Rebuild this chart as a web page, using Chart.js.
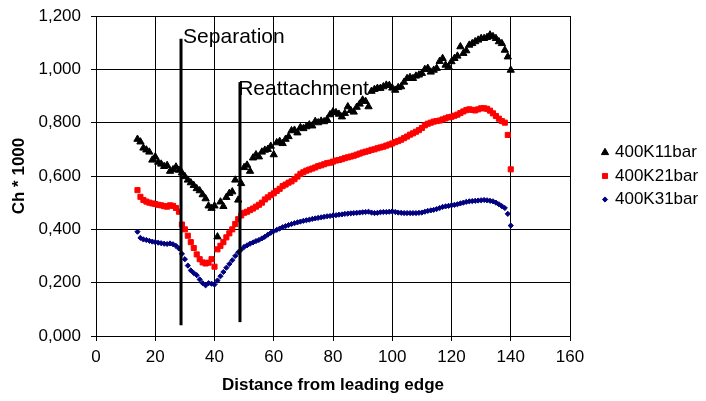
<!DOCTYPE html>
<html>
<head>
<meta charset="utf-8">
<script src="https://cdn.jsdelivr.net/npm/chart.js@4.4.1/dist/chart.umd.min.js"></script>
<style>
  html, body { margin: 0; padding: 0; background: #fff; }
</style>
</head>
<body>
<canvas id="chart" width="706" height="401"></canvas>
<script>
// Distance from leading edge (x values shared by the three series)
const distance = [
  14, 15, 16, 17, 18, 19, 20, 21, 22, 23,
  24, 25, 26, 27, 28, 29, 30, 31, 32, 33,
  34, 35, 36, 37, 38, 39, 40, 41, 42, 43,
  44, 45, 46, 47, 48, 49, 50, 51, 52, 53,
  54, 55, 56, 57, 58, 59, 60, 61, 62, 63,
  64, 65, 66, 67, 68, 69, 70, 71, 72, 73,
  74, 75, 76, 77, 78, 79, 80, 81, 82, 83,
  84, 85, 86, 87, 88, 89, 90, 91, 92, 93,
  94, 95, 96, 97, 98, 99, 100, 101, 102, 103,
  104, 105, 106, 107, 108, 109, 110, 111, 112, 113,
  114, 115, 116, 117, 118, 119, 120, 121, 122, 123,
  124, 125, 126, 127, 128, 129, 130, 131, 132, 133,
  134, 135, 136, 137, 138, 139, 140
];

// Ch * 1000 for each run
const k11 = [
  0.738, 0.728, 0.705, 0.698, 0.690, 0.660, 0.672, 0.652, 0.645, 0.636,
  0.640, 0.618, 0.624, 0.634, 0.622, 0.612, 0.598, 0.585, 0.575, 0.565,
  0.553, 0.545, 0.530, 0.515, 0.488, 0.479, 0.488, 0.372, 0.503, 0.486,
  0.520, 0.535, 0.541, 0.585, 0.510, 0.572, 0.632, 0.641, 0.618, 0.668,
  0.680, 0.672, 0.690, 0.697, 0.700, 0.712, 0.680, 0.725, 0.730, 0.722,
  0.738, 0.748, 0.770, 0.772, 0.762, 0.782, 0.778, 0.785, 0.792, 0.788,
  0.805, 0.800, 0.806, 0.804, 0.812, 0.830, 0.841, 0.838, 0.832, 0.822,
  0.835, 0.860, 0.846, 0.840, 0.858, 0.870, 0.885, 0.880, 0.860, 0.918,
  0.925, 0.929, 0.929, 0.935, 0.941, 0.940, 0.930, 0.922, 0.932, 0.935,
  0.952, 0.966, 0.970, 0.966, 0.975, 0.979, 0.985, 1.000, 1.004, 0.990,
  0.997, 1.004, 1.030, 1.041, 1.016, 1.010, 1.029, 1.041, 1.050, 1.085,
  1.060, 1.070, 1.091, 1.097, 1.104, 1.110, 1.116, 1.116, 1.120, 1.129,
  1.123, 1.116, 1.104, 1.097, 1.072, 1.047, 0.997
];
const k21 = [
  0.547, 0.522, 0.510, 0.504, 0.500, 0.497, 0.495, 0.492, 0.490, 0.487,
  0.485, 0.490, 0.488, 0.480, 0.466, 0.418, 0.400, 0.376, 0.352, 0.330,
  0.306, 0.288, 0.276, 0.272, 0.275, 0.288, 0.260, 0.325, 0.338, 0.352,
  0.370, 0.385, 0.400, 0.420, 0.438, 0.452, 0.462, 0.466, 0.472, 0.478,
  0.485, 0.492, 0.500, 0.512, 0.520, 0.528, 0.535, 0.544, 0.552, 0.562,
  0.568, 0.575, 0.580, 0.588, 0.598, 0.608, 0.614, 0.620, 0.624, 0.628,
  0.632, 0.637, 0.640, 0.644, 0.648, 0.650, 0.654, 0.658, 0.660, 0.663,
  0.667, 0.670, 0.673, 0.676, 0.680, 0.684, 0.688, 0.691, 0.694, 0.698,
  0.700, 0.704, 0.707, 0.710, 0.714, 0.718, 0.722, 0.727, 0.731, 0.736,
  0.742, 0.748, 0.755, 0.760, 0.766, 0.772, 0.780, 0.790, 0.796, 0.800,
  0.804, 0.806, 0.808, 0.812, 0.816, 0.820, 0.822, 0.826, 0.830, 0.836,
  0.842, 0.847, 0.850, 0.848, 0.846, 0.850, 0.854, 0.854, 0.852, 0.845,
  0.835, 0.825, 0.815, 0.806, 0.800, 0.754, 0.625
];
const k31 = [
  0.391, 0.368, 0.362, 0.360, 0.357, 0.354, 0.352, 0.350, 0.348, 0.346,
  0.345, 0.347, 0.344, 0.338, 0.328, 0.308, 0.288, 0.264, 0.246, 0.236,
  0.228, 0.212, 0.198, 0.190, 0.198, 0.196, 0.193, 0.208, 0.224, 0.240,
  0.256, 0.270, 0.284, 0.300, 0.314, 0.324, 0.334, 0.340, 0.346, 0.351,
  0.356, 0.360, 0.366, 0.372, 0.380, 0.387, 0.393, 0.398, 0.403, 0.408,
  0.412, 0.416, 0.420, 0.423, 0.426, 0.429, 0.432, 0.434, 0.436, 0.439,
  0.441, 0.443, 0.445, 0.447, 0.449, 0.450, 0.452, 0.453, 0.455, 0.456,
  0.458, 0.459, 0.460, 0.461, 0.462, 0.463, 0.464, 0.465, 0.466, 0.463,
  0.461, 0.462, 0.464, 0.465, 0.465, 0.466, 0.467, 0.465, 0.463, 0.462,
  0.461, 0.461, 0.461, 0.461, 0.461, 0.462, 0.463, 0.466, 0.469, 0.471,
  0.473, 0.476, 0.480, 0.484, 0.486, 0.488, 0.490, 0.492, 0.494, 0.497,
  0.500, 0.503, 0.505, 0.506, 0.507, 0.508, 0.509, 0.510, 0.509, 0.507,
  0.505, 0.500, 0.494, 0.487, 0.480, 0.458, 0.414
];

const seriesNames = ["400K11bar", "400K21bar", "400K31bar"];

// Vertical marker lines (Separation / Reattachment)
const markerNames = ["Separation", "Reattachment"];
const markerX = [28.7, 48.6];
const markerTop = [1.115, 0.952];
const markerBottom = [0.04, 0.052];
const markerLabelX = [29.4, 48.0];
const markerLabelY = [1.121, 0.926];

const FONT = '"Liberation Sans", Arial, sans-serif';

const toPoints = (ys) => distance.map((x, i) => ({ x: x, y: ys[i] }));

const seriesStyle = [
  { color: "#000000", style: "triangle", radius: 4.2 },
  { color: "#ff0000", style: "rect", radius: 3.6 },
  { color: "#000080", style: "rectRot", radius: 2.6 }
];
const seriesData = [k11, k21, k31];

const datasets = seriesData.map((ys, i) => ({
  label: seriesNames[i],
  data: toPoints(ys),
  showLine: false,
  pointStyle: seriesStyle[i].style,
  pointRadius: seriesStyle[i].radius,
  pointBackgroundColor: seriesStyle[i].color,
  pointBorderColor: seriesStyle[i].color,
  pointBorderWidth: 1,
  order: 2
}));

markerX.forEach((x, i) => {
  datasets.push({
    label: "",
    data: [{ x: x, y: markerBottom[i] }, { x: x, y: markerTop[i] }],
    showLine: true,
    borderColor: "#000000",
    borderWidth: 3,
    pointRadius: 0,
    order: 1
  });
});

// legend at the right side + marker captions
const sidePlugin = {
  id: "sideStuff",
  afterDatasetsDraw(chart) {
    const ctx = chart.ctx;
    const xs = chart.scales.x, ys = chart.scales.y;
    ctx.save();
    ctx.fillStyle = "#000";
    ctx.font = "21px " + FONT;
    ctx.textAlign = "left";
    ctx.textBaseline = "middle";
    markerNames.forEach((t, i) => {
      ctx.fillText(t, xs.getPixelForValue(markerLabelX[i]), ys.getPixelForValue(markerLabelY[i]));
    });
    ctx.restore();
  },
  afterDraw(chart) {
    const ctx = chart.ctx;
    const area = chart.chartArea;
    const mid = (area.top + area.bottom) / 2;
    ctx.save();
    ctx.font = "17px " + FONT;
    ctx.textBaseline = "middle";
    seriesNames.forEach((name, i) => {
      const cy = mid + (i - 1) * 23.5;
      const cx = area.right + 35;
      ctx.fillStyle = seriesStyle[i].color;
      ctx.strokeStyle = seriesStyle[i].color;
      ctx.lineWidth = 1;
      Chart.helpers.drawPoint(ctx, {
        pointStyle: seriesStyle[i].style,
        radius: seriesStyle[i].radius,
        rotation: 0,
        borderWidth: 1
      }, cx, cy);
      ctx.fillStyle = "#000";
      ctx.fillText(name, cx + 10, cy);
    });
    ctx.restore();
  }
};

new Chart(document.getElementById("chart"), {
  type: "scatter",
  data: { datasets: datasets },
  plugins: [sidePlugin],
  options: {
    responsive: false,
    animation: false,
    layout: { padding: { top: 16, right: 136, left: 0, bottom: 0 } },
    plugins: {
      legend: { display: false },
      tooltip: { enabled: false }
    },
    scales: {
      x: {
        type: "linear",
        min: 0,
        max: 160,
        ticks: { stepSize: 20, color: "#000", font: { family: FONT, size: 17 }, padding: 6, maxRotation: 0 },
        grid: { color: "#000", lineWidth: 1, tickLength: 5, tickColor: "#000" },
        border: { color: "#000" },
        title: {
          display: true,
          text: "Distance from leading edge",
          color: "#000",
          font: { family: FONT, size: 17, weight: "bold" },
          padding: { top: 0, bottom: 5 }
        },
        afterFit(s) {
          s.height = 65;
          s.paddingLeft = 0;
          s.paddingRight = 0;
        }
      },
      y: {
        min: 0,
        max: 1.2,
        ticks: {
          stepSize: 0.2,
          color: "#000",
          font: { family: FONT, size: 17 },
          padding: 10,
          callback: (v) => v.toFixed(3).replace(".", ",")
        },
        grid: { color: "#000", lineWidth: 1, tickLength: 5, tickColor: "#000" },
        border: { color: "#000" },
        title: {
          display: true,
          text: "Ch * 1000",
          color: "#000",
          font: { family: FONT, size: 17, weight: "bold" },
          padding: { top: 9, bottom: 0 }
        },
        afterFit(s) {
          s.width = 96;
          s.paddingTop = 0;
          s.paddingBottom = 0;
        }
      }
    }
  }
});
</script>
</body>
</html>
